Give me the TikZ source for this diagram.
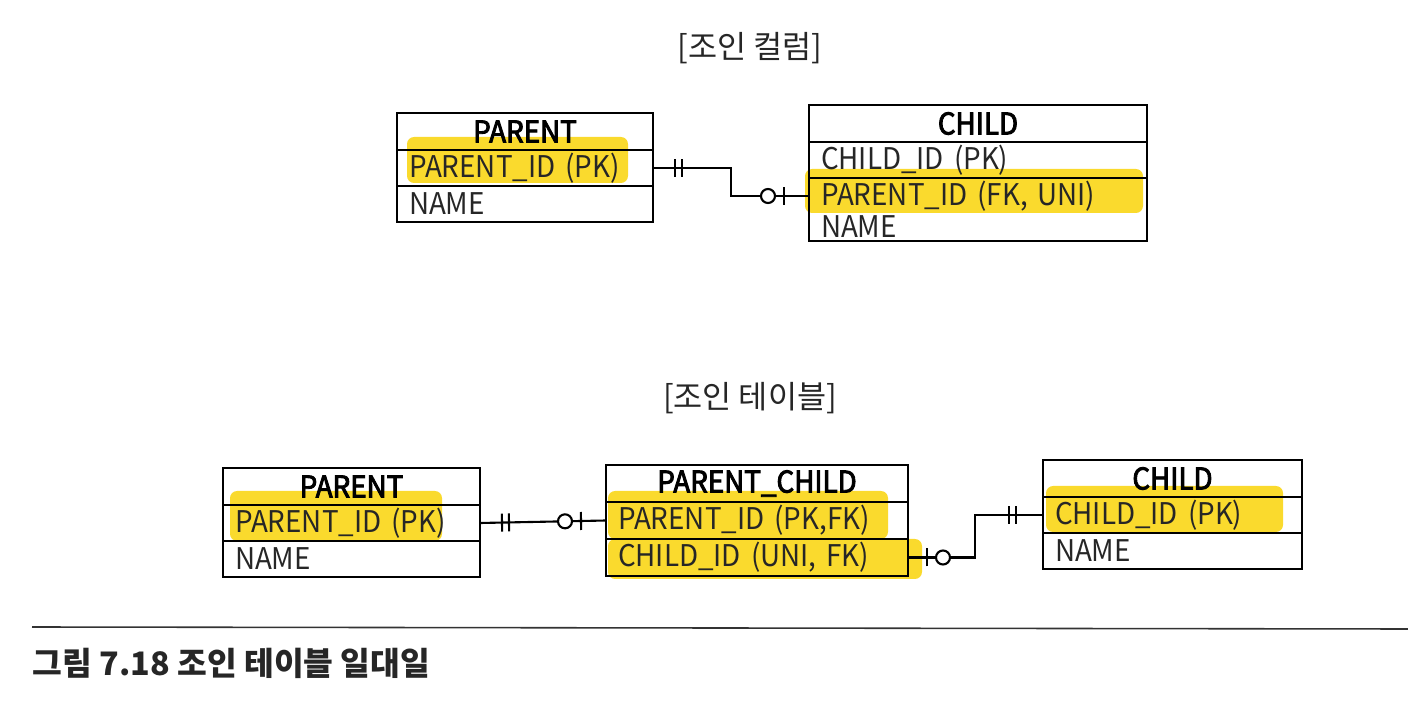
\documentclass[tikz,border=0pt]{standalone}
\usepackage{fontspec}
\setmainfont{Noto Sans CJK KR}
\newfontfamily\tblfont[FakeStretch=0.93]{Noto Sans CJK KR}
\newfontfamily\hdfont[FakeStretch=0.93,FakeBold=3]{Noto Sans CJK KR}
\usepackage{tikz}
\usetikzlibrary{positioning}
\usetikzlibrary{backgrounds}
\usetikzlibrary{decorations.markings}
\definecolor{marker}{RGB}{250,218,45}
\tikzset{hd/.style={draw,line width=.75pt,inner xsep=.12cm,inner ysep=0pt,outer sep=0pt,minimum height=.37cm,align=center,font=\fontsize{8.5}{9.1}\hdfont,anchor=north west}}
\tikzset{fld/.style={draw,line width=.75pt,inner xsep=.12cm,inner ysep=0pt,outer sep=0pt,minimum height=.36cm,align=left,font=\fontsize{8.5}{9.1}\tblfont,text=black!85}}
\tikzset{ttl/.style={font=\fontsize{9}{10}\selectfont,text=black!85}}
\tikzset{hl/.style={fill=marker,rounded corners=2pt}}
\tikzset{rel/.style={draw,line width=.6pt}}
\tikzset{mandstart/.style={postaction={decorate,decoration={markings,
  mark=at position .22cm with {\draw[line width=.6pt] (0,-.09) -- (0,.09);},
  mark=at position .29cm with {\draw[line width=.6pt] (0,-.09) -- (0,.09);}}}}}
\tikzset{mandend/.style={postaction={decorate,decoration={markings,
  mark=at position -.34cm with {\draw[line width=.6pt] (0,-.09) -- (0,.09);},
  mark=at position -.27cm with {\draw[line width=.6pt] (0,-.09) -- (0,.09);}}}}}
\tikzset{optstart/.style={postaction={decorate,decoration={markings,
  mark=at position .19cm with {\draw[line width=.6pt] (0,-.09) -- (0,.09);},
  mark=at position .35cm with {\draw[line width=.6pt,fill=white] (0,0) circle (.07);}}}}}
\tikzset{optend/.style={postaction={decorate,decoration={markings,
  mark=at position -.41cm with {\draw[line width=.6pt,fill=white] (0,0) circle (.07);},
  mark=at position -.25cm with {\draw[line width=.6pt] (0,-.09) -- (0,.09);}}}}}
\begin{document}
\begin{tikzpicture}
  \useasboundingbox (0,0) rectangle (14.08,7.04);
  % join column
  \node[ttl] (t1) at (7.50,6.56) {[조인 컬럼]};
  \node[hd,text width=2.32cm] (p) at (3.97,5.91) {PARENT};
  \node[fld,text width=2.32cm,below=0pt of p] (ppk) {PARENT\_ID (PK)};
  \node[fld,text width=2.32cm,below=0pt of ppk] (pattr) {NAME};
  \node[hd,text width=3.14cm] (c) at (8.09,5.99) {CHILD};
  \node[fld,text width=3.14cm,below=0pt of c] (cpk) {CHILD\_ID (PK)};
  \node[fld,text width=3.14cm,minimum height=.63cm,below=0pt of cpk] (cattr) {PARENT\_ID (FK, UNI)\\NAME};
  \coordinate (cfk) at ([yshift=-.18cm]cattr.north west);
  \draw[rel,mandstart,optend] (ppk.east) -- ++(.78,0) |- (cfk);
  % join table
  \node[ttl] (t2) at (7.50,3.06) {[조인 테이블]};
  \node[hd,text width=2.33cm] (bp) at (2.23,2.36) {PARENT};
  \node[fld,text width=2.33cm,below=0pt of bp] (bppk) {PARENT\_ID (PK)};
  \node[fld,text width=2.33cm,below=0pt of bppk] (bpattr) {NAME};
  \node[hd,text width=2.78cm] (pc) at (6.06,2.39) {PARENT\_CHILD};
  \node[fld,text width=2.78cm,minimum height=.37cm,below=0pt of pc] (pcpk) {PARENT\_ID (PK,FK)};
  \node[fld,text width=2.78cm,minimum height=.37cm,below=0pt of pcpk] (pcattr) {CHILD\_ID (UNI, FK)};
  \node[hd,text width=2.35cm] (bc) at (10.43,2.44) {CHILD};
  \node[fld,text width=2.35cm,below=0pt of bc] (bcpk) {CHILD\_ID (PK)};
  \node[fld,text width=2.35cm,below=0pt of bcpk] (bcattr) {NAME};
  \draw[rel,mandstart,optend] (bppk.east) -- (pcpk.west);
  \draw[rel,optstart,mandend] (pcattr.east) -- ++(.67,0) |- (bcpk.west);
  % marker
  \begin{scope}[on background layer]
    \fill[hl] ([shift={(.10,.13)}]ppk.north west) rectangle ([shift={(-.25,.03)}]ppk.south east);
    \fill[hl] ([shift={(-.04,.09)}]cattr.north west) rectangle ([shift={(-.04,-.35)}]cattr.north east);
    \fill[hl] ([shift={(.07,.14)}]bppk.north west) rectangle ([shift={(-.38,0)}]bppk.south east);
    \fill[hl] ([shift={(.02,.11)}]pcpk.north west) rectangle ([shift={(-.20,0)}]pcpk.south east);
    \fill[hl] ([xshift=.02cm]pcattr.north west) rectangle ([shift={(.14,-.03)}]pcattr.south east);
    \fill[hl] ([shift={(.03,.11)}]bcpk.north west) rectangle ([shift={(-.19,.01)}]bcpk.south east);
  \end{scope}
  % caption
  \draw[line width=.45pt,black!80] (0.32,0.77) -- (14.08,0.75);
  \node[anchor=west,inner sep=0pt,font=\fontsize{9.2}{10}\selectfont\bfseries,text=black!85] (cap) at (0.32,0.41) {그림 7.18 조인 테이블 일대일};
\end{tikzpicture}
\end{document}
